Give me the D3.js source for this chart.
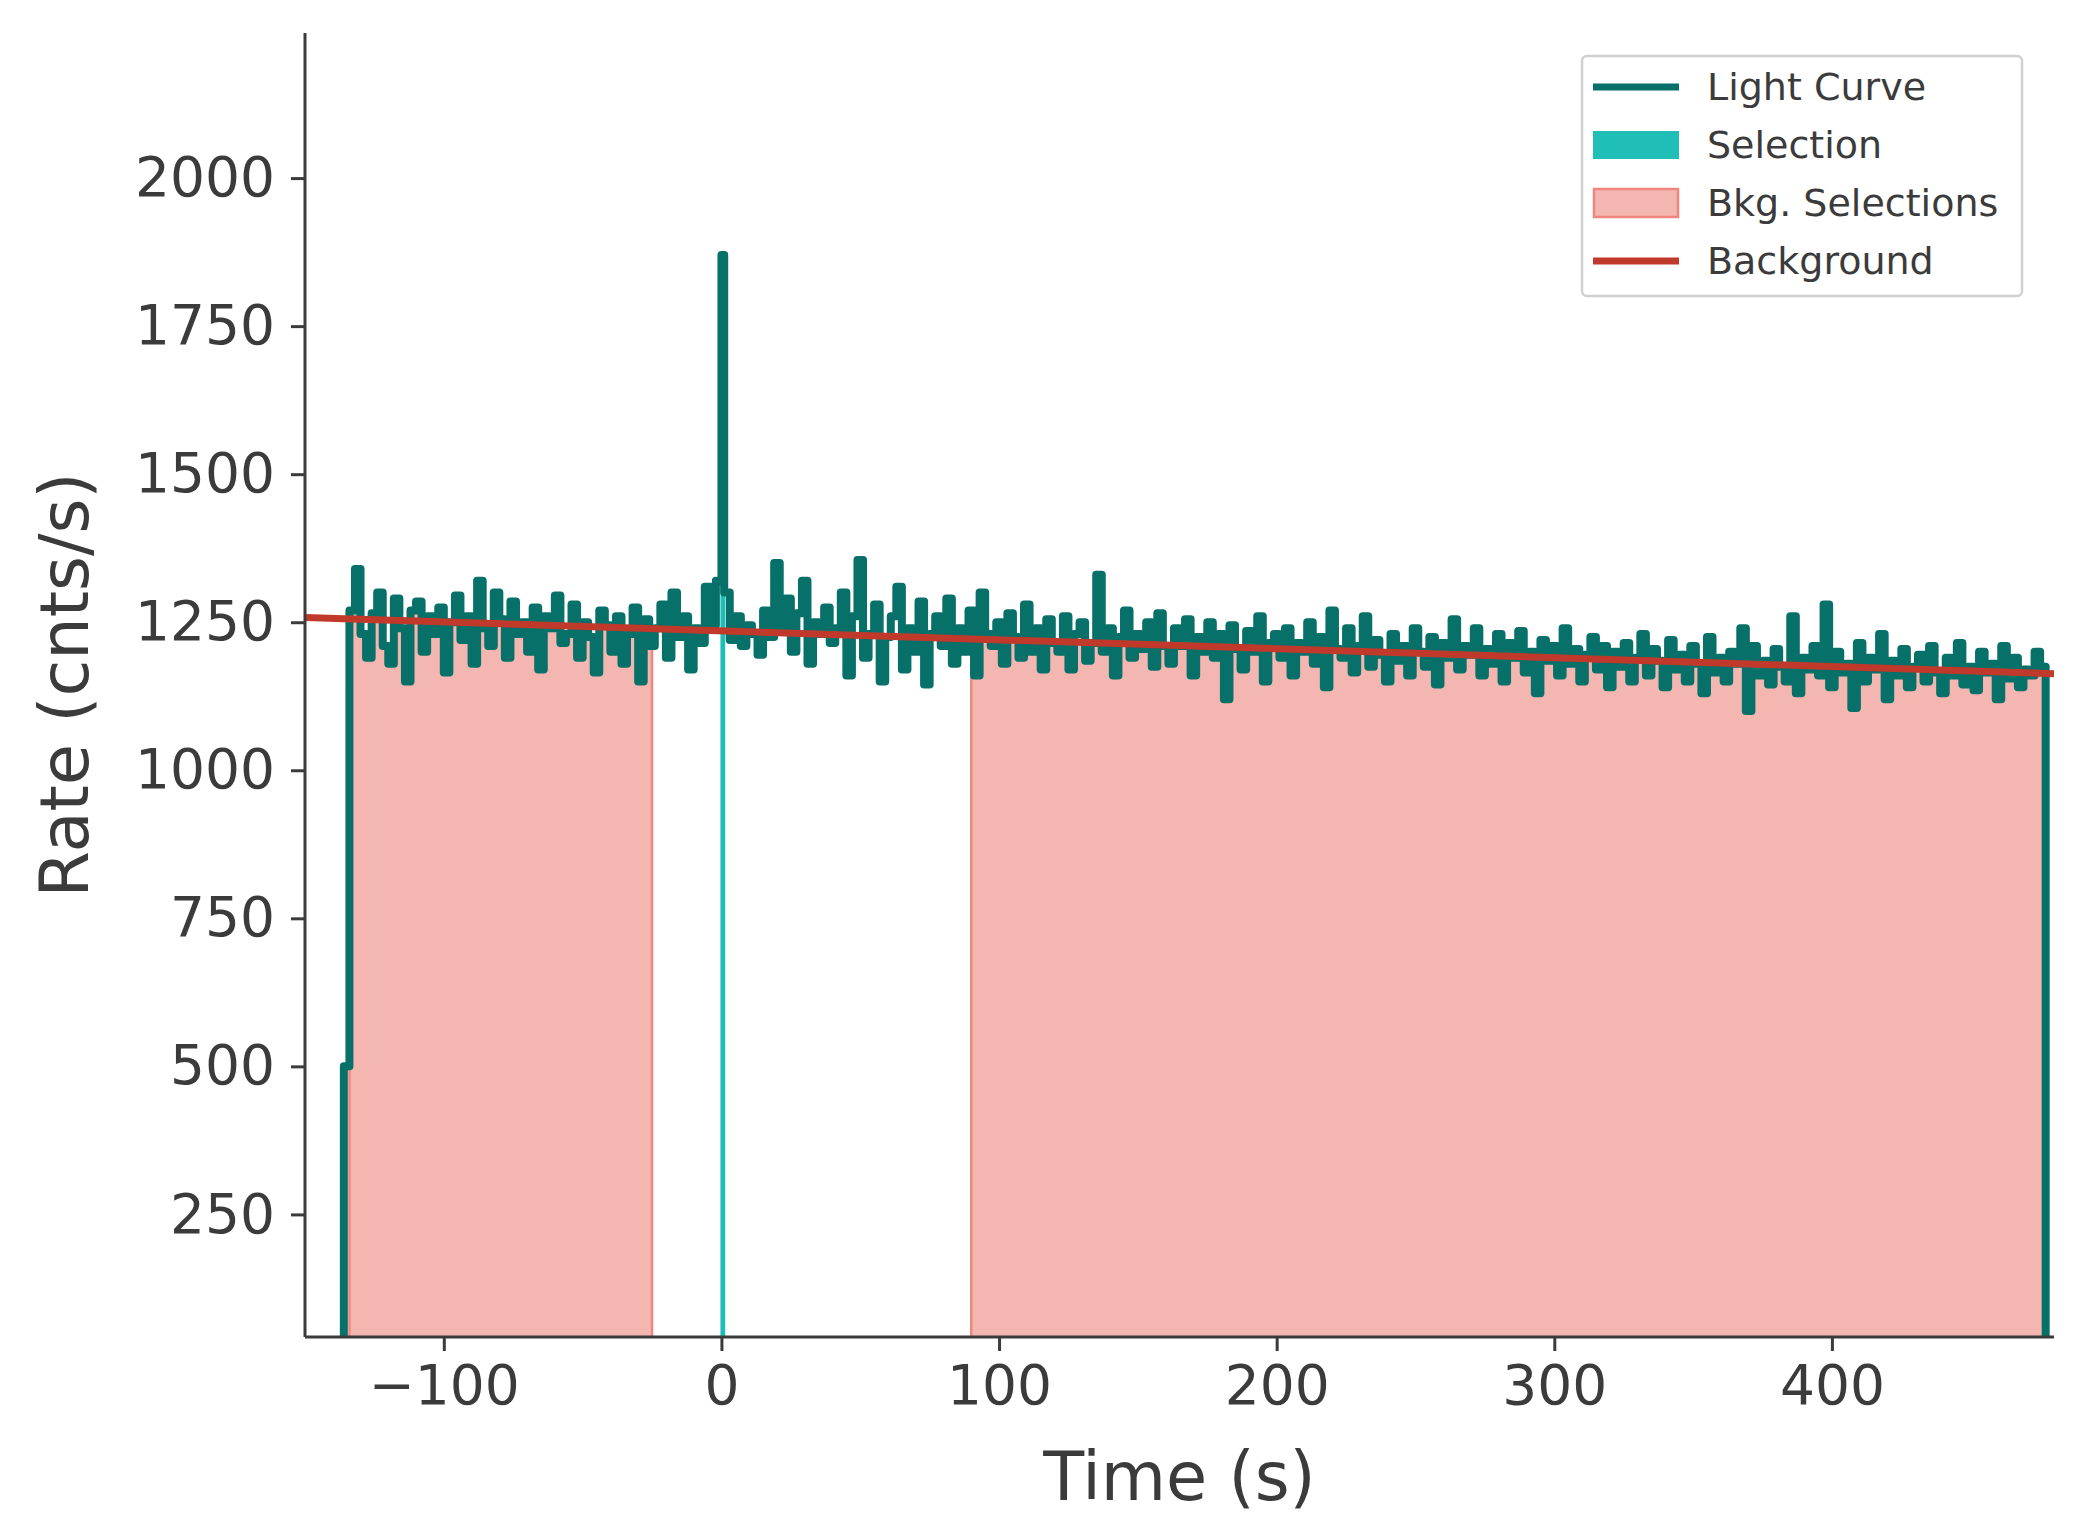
<!DOCTYPE html>
<html><head><meta charset="utf-8">
<script src="https://cdn.jsdelivr.net/npm/d3@7"></script>
<style>body{margin:0;background:#fff}text{font-family:"DejaVu Sans";fill:#3b3b3b}</style>
</head><body><svg id="c" width="2074" height="1540"></svg>
<script>
// ---- data ----
const preStart = -136, preDt = 2;
const preRates = [500,1270,1340,1230,1190,1265,1300,1210,1180,1290,1240,1150,1270,1285,1200,1260,1230,1275,1165,1250,1295,1220,1260,1180,1320,1240,1210,1300,1255,1190,1285,1230,1250,1200,1275,1170,1260,1240,1295,1215,1230,1280,1190,1250,1225,1165,1270,1245,1200,1260,1180,1230,1275,1150,1255,1210,1240,1280,1190,1300,1225,1260,1170,1240,1215,1310,1245,1320];
const burstStart = 0, burstDt = 1;
const burstRates = [1870];
const postStart = 1, postDt = 2;
const postRates = [1300,1220,1260,1210,1245,1230,1195,1270,1225,1350,1240,1290,1200,1265,1320,1180,1250,1230,1275,1215,
1240,1300,1160,1260,1355,1190,1230,1280,1150,1225,1260,1310,1170,1240,1200,1285,1145,1230,1260,1210,
1290,1180,1240,1200,1270,1160,1300,1230,1210,1250,1180,1265,1225,1190,1280,1200,1240,1170,1255,1215,
1200,1260,1170,1230,1250,1185,1215,1330,1200,1240,1160,1225,1270,1190,1230,1205,1250,1175,1265,1210,
1180,1240,1210,1255,1160,1225,1200,1250,1190,1230,1120,1245,1205,1170,1235,1200,1260,1150,1215,1230,
1190,1240,1160,1215,1200,1250,1180,1225,1140,1270,1205,1190,1240,1165,1210,1260,1175,1220,1195,1150,
1230,1185,1210,1160,1240,1200,1175,1225,1145,1215,1190,1255,1170,1210,1195,1240,1160,1205,1180,1230,
1150,1215,1190,1235,1165,1200,1130,1220,1185,1210,1160,1240,1180,1205,1150,1195,1225,1170,1210,1140,
1200,1175,1215,1150,1190,1230,1160,1205,1185,1140,1220,1170,1195,1150,1210,1180,1130,1225,1165,1190,
1150,1200,1180,1240,1100,1210,1160,1185,1145,1205,1175,1150,1260,1130,1190,1170,1210,1160,1280,1140,
1200,1165,1180,1105,1215,1150,1190,1170,1230,1120,1185,1160,1205,1140,1175,1195,1150,1210,1165,1130,
1190,1160,1215,1145,1175,1135,1200,1165,1180,1120,1210,1155,1190,1140,1170,1160,1200,1175];
const selection = [0, 1];
const bkgSelections = [[-134, -25], [90, 477]];
const bkgLine = {t: [-150, 480], rate: [1258, 1163]};
const xTicks = [-100, 0, 100, 200, 300, 400];
const yTicks = [250, 500, 750, 1000, 1250, 1500, 1750, 2000];
const legendLabels = ["Light Curve", "Selection", "Bkg. Selections", "Background"];

// ---- build bins ----
const bins = [];
[[preStart, preDt, preRates], [burstStart, burstDt, burstRates], [postStart, postDt, postRates]].forEach(([s, dt, arr]) => {
  arr.forEach((v, i) => bins.push({t0: s + i * dt, t1: s + (i + 1) * dt, v}));
});

const L = 305, R = 2054, T = 33, B = 1337;
const x = d3.scaleLinear().domain([-150, 480]).range([L, R]);
const y = d3.scaleLinear().domain([43, 2245]).range([B, T]);
const svg = d3.select("#c");
svg.append("defs").append("clipPath").attr("id", "clip").append("rect").attr("x", L).attr("y", T).attr("width", R - L).attr("height", B - T);
const g = svg.append("g").attr("clip-path", "url(#clip)");

function stepPts(lo, hi) {
  const pts = [];
  bins.forEach(b => {
    const a = Math.max(b.t0, lo), c = Math.min(b.t1, hi);
    if (c > a) { pts.push([a, b.v]); pts.push([c, b.v]); }
  });
  return pts;
}
const area = d3.area().x(d => x(d[0])).y0(y(0)).y1(d => y(d[1]));
bkgSelections.forEach(([lo, hi]) => {
  g.append("path").datum(stepPts(lo, hi)).attr("d", area).attr("fill", "#f4b6b0").attr("stroke", "#f0877e").attr("stroke-width", 2.5);
});
g.append("path").datum(stepPts(selection[0], selection[1])).attr("d", area).attr("fill", "#1fbfb8").attr("stroke", "#1fbfb8").attr("stroke-width", 2);

// light curve
const lc = [[bins[0].t0, 0]];
bins.forEach(b => { lc.push([b.t0, b.v]); lc.push([b.t1, b.v]); });
lc.push([bins[bins.length - 1].t1, 0]);
g.append("path").datum(lc).attr("d", d3.line().x(d => x(d[0])).y(d => y(d[1])))
  .attr("fill", "none").attr("stroke", "#077068").attr("stroke-width", 8).attr("stroke-linejoin", "round").attr("stroke-linecap", "round");

// background
g.append("line").attr("x1", x(bkgLine.t[0])).attr("x2", x(bkgLine.t[1])).attr("y1", y(bkgLine.rate[0])).attr("y2", y(bkgLine.rate[1]))
  .attr("stroke", "#c0392b").attr("stroke-width", 7);

// axes
const ax = svg.append("g").attr("transform", `translate(0,${B})`).call(d3.axisBottom(x).tickValues(xTicks).tickSize(14).tickPadding(14).tickFormat(d => d < 0 ? "\u2212" + Math.abs(d) : String(d)));
const ay = svg.append("g").attr("transform", `translate(${L},0)`).call(d3.axisLeft(y).tickValues(yTicks).tickSize(14).tickPadding(16).tickFormat(d => String(d)));
[ax, ay].forEach(a => {
  a.select(".domain").attr("stroke", "#3b3b3b").attr("stroke-width", 3);
  a.selectAll(".tick line").attr("stroke", "#3b3b3b").attr("stroke-width", 3);
  a.selectAll(".tick text").attr("font-size", 55).attr("font-family", "DejaVu Sans").attr("fill", "#3b3b3b");
});
ay.select(".domain").attr("d", `M0,${B}V${T}`);
ax.select(".domain").attr("d", `M${L},0H${R}`);
svg.append("text").attr("x", (L + R) / 2).attr("y", 1500).attr("text-anchor", "middle").attr("font-size", 67).text("Time (s)");
svg.append("text").attr("transform", `translate(88,${(T + B) / 2}) rotate(-90)`).attr("text-anchor", "middle").attr("font-size", 67).text("Rate (cnts/s)");

// legend
const lg = svg.append("g").attr("transform", "translate(-14,0)");
lg.append("rect").attr("x", 1596).attr("y", 56).attr("width", 440).attr("height", 240).attr("rx", 5).attr("fill", "#fff").attr("stroke", "#d0d0d0").attr("stroke-width", 2.5);
const ly = [87, 145, 203, 261];
lg.append("line").attr("x1", 1607).attr("x2", 1693).attr("y1", ly[0]).attr("y2", ly[0]).attr("stroke", "#077068").attr("stroke-width", 7);
lg.append("rect").attr("x", 1607).attr("y", ly[1] - 14).attr("width", 86).attr("height", 28).attr("fill", "#1fbfb8");
lg.append("rect").attr("x", 1608).attr("y", ly[2] - 14).attr("width", 84).attr("height", 28).attr("fill", "#f4b6b0").attr("stroke", "#f0877e").attr("stroke-width", 2.5);
lg.append("line").attr("x1", 1607).attr("x2", 1693).attr("y1", ly[3]).attr("y2", ly[3]).attr("stroke", "#c0392b").attr("stroke-width", 7);
legendLabels.forEach((t, i) => lg.append("text").attr("x", 1721).attr("y", ly[i]).attr("dy", "0.35em").attr("font-size", 38).attr("fill", "#111").text(t));
</script></body></html>
